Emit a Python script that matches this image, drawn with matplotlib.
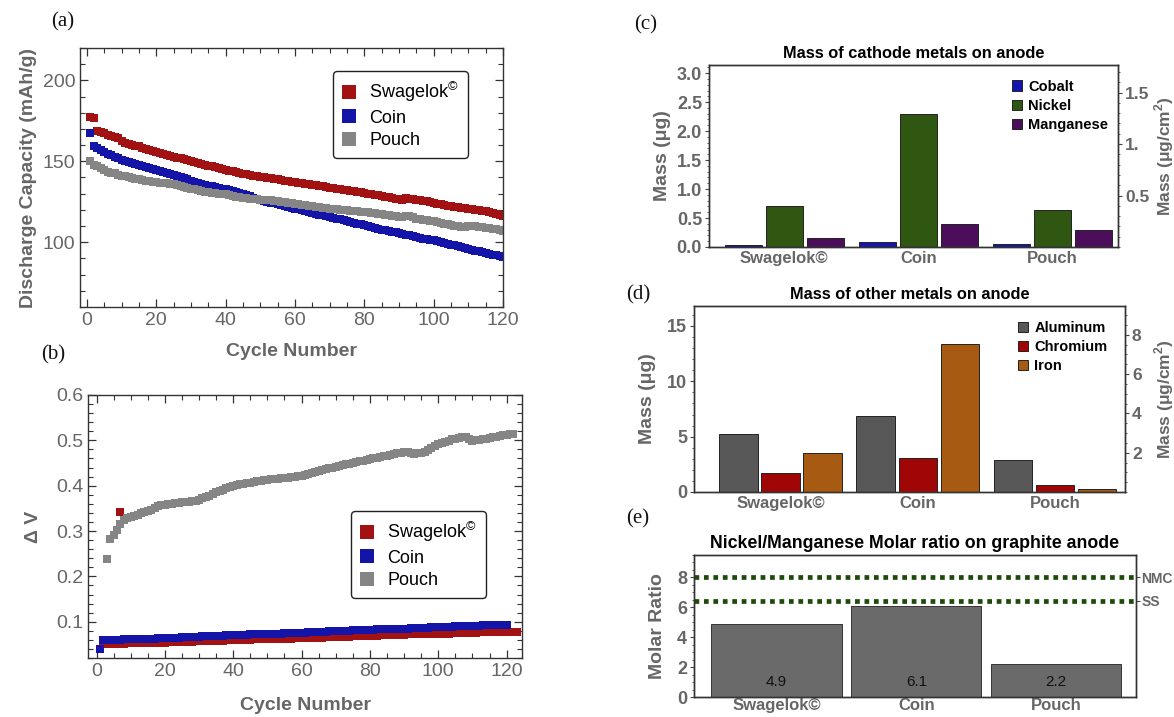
import matplotlib
matplotlib.use("Agg")
import matplotlib.pyplot as plt
from matplotlib.ticker import MultipleLocator, FixedLocator

plt.rcParams['font.family'] = ['Liberation Sans', 'DejaVu Sans']
plt.rcParams['mathtext.fontset'] = 'custom'
plt.rcParams['mathtext.rm'] = 'Liberation Sans'
plt.rcParams['mathtext.bf'] = 'Liberation Sans:bold'

# ---------------- data: panel (a) discharge capacity ----------------
cycles_a = list(range(1, 121))
cap_swagelok = [
    177.5, 176.5, 169.0, 168.3, 167.5, 166.5, 165.5, 165.0, 164.5, 162.5,
    161.5, 160.8, 160.2, 159.6, 159.4, 158.3, 157.6, 157.0, 156.4, 155.7,
    155.1, 154.5, 154.0, 153.4, 152.9, 152.3, 151.8, 151.2, 150.7, 150.1,
    149.6, 149.0, 148.5, 148.0, 147.4, 146.9, 146.4, 145.9, 145.3, 144.8,
    144.3, 143.9, 143.4, 142.9, 142.4, 142.0, 141.6, 141.2, 140.8, 140.4,
    140.1, 139.8, 139.4, 139.1, 138.8, 138.4, 138.1, 137.8, 137.4, 137.1,
    136.8, 136.4, 136.1, 135.8, 135.5, 135.1, 134.8, 134.5, 134.1, 133.8,
    133.5, 133.2, 132.8, 132.5, 132.2, 131.8, 131.5, 131.2, 130.8, 130.5,
    130.1, 129.7, 129.3, 128.9, 128.5, 128.1, 127.7, 127.3, 126.9, 126.5,
    126.3, 127.2, 127.0, 126.7, 126.4, 126.0, 125.6, 125.2, 124.7, 124.3,
    123.9, 123.5, 123.1, 122.7, 122.3, 122.0, 121.7, 121.4, 121.1, 120.8,
    120.5, 120.2, 119.8, 119.4, 119.0, 118.6, 118.0, 117.3, 116.9, 116.5]
cap_coin = [
    167.6, 159.4, 158.3, 156.9, 155.7, 154.6, 153.6, 152.8, 151.9, 151.1,
    150.4, 149.7, 149.0, 148.3, 147.6, 147.0, 146.4, 145.7, 145.1, 144.5,
    143.9, 143.2, 142.6, 142.0, 141.4, 140.7, 140.1, 139.4, 138.8, 138.1,
    137.5, 136.9, 136.2, 135.6, 135.0, 134.5, 134.0, 133.6, 133.1, 132.6,
    132.1, 131.5, 131.0, 130.4, 129.9, 129.1, 128.3, 127.5, 126.6, 125.8,
    125.3, 124.9, 124.4, 124.0, 123.5, 123.0, 122.4, 121.9, 121.3, 120.8,
    120.3, 119.7, 119.2, 118.6, 118.1, 117.6, 117.1, 116.7, 116.2, 115.7,
    115.2, 114.6, 114.1, 113.5, 113.0, 112.5, 112.0, 111.5, 111.0, 110.5,
    110.0, 109.4, 108.9, 108.3, 107.8, 107.4, 107.0, 106.6, 106.2, 105.8,
    105.3, 104.7, 104.2, 103.6, 103.1, 102.7, 102.3, 102.0, 101.6, 101.2,
    100.7, 100.1, 99.6, 99.0, 98.5, 98.0, 97.4, 96.9, 96.4, 95.9,
    95.4, 94.9, 94.4, 93.9, 93.4, 92.9, 92.4, 91.9, 91.4, 90.9]
cap_pouch = [
    150.5, 148.0, 147.0, 145.6, 144.5, 143.5, 143.0, 142.5, 141.8, 141.2,
    140.8, 140.4, 139.9, 139.3, 138.8, 138.5, 138.1, 137.8, 137.4, 137.1,
    136.8, 136.5, 136.3, 136.0, 135.7, 135.2, 134.6, 134.1, 133.5, 133.0,
    132.6, 132.2, 131.7, 131.3, 130.9, 130.6, 130.4, 130.1, 129.8, 129.5,
    129.1, 128.7, 128.2, 127.8, 127.4, 127.2, 127.0, 126.8, 126.6, 126.4,
    126.2, 126.0, 125.8, 125.6, 125.4, 125.1, 124.7, 124.4, 124.0, 123.7,
    123.4, 123.1, 122.9, 122.6, 122.3, 122.0, 121.7, 121.4, 121.1, 120.8,
    120.6, 120.4, 120.2, 120.0, 119.8, 119.6, 119.3, 119.1, 118.8, 118.6,
    118.4, 118.2, 117.9, 117.7, 117.5, 117.1, 116.8, 116.4, 116.1, 115.7,
    115.8, 116.0, 116.1, 115.3, 114.6, 114.3, 114.0, 113.6, 113.3, 113.0,
    112.5, 112.0, 111.5, 111.0, 110.5, 110.1, 109.8, 109.5, 109.7, 109.9,
    109.9, 109.8, 109.5, 109.2, 108.9, 108.6, 108.2, 107.9, 107.5, 107.2]

# ---------------- data: panel (b) delta V ----------------
cycles_b_swagelok = list(range(2, 124))
dv_swagelok = [
    0.050, 0.050, 0.050, 0.051, 0.051, 0.342, 0.051, 0.052, 0.052, 0.052,
    0.052, 0.053, 0.053, 0.053, 0.053, 0.054, 0.054, 0.054, 0.054, 0.055,
    0.055, 0.055, 0.055, 0.056, 0.056, 0.056, 0.056, 0.057, 0.057, 0.057,
    0.057, 0.058, 0.058, 0.058, 0.058, 0.058, 0.059, 0.059, 0.059, 0.059,
    0.060, 0.060, 0.060, 0.060, 0.061, 0.061, 0.061, 0.061, 0.062, 0.062,
    0.062, 0.062, 0.063, 0.063, 0.063, 0.063, 0.064, 0.064, 0.064, 0.064,
    0.065, 0.065, 0.065, 0.065, 0.065, 0.066, 0.066, 0.066, 0.066, 0.067,
    0.067, 0.067, 0.067, 0.068, 0.068, 0.068, 0.068, 0.069, 0.069, 0.069,
    0.069, 0.070, 0.070, 0.070, 0.070, 0.071, 0.071, 0.071, 0.071, 0.072,
    0.072, 0.072, 0.072, 0.072, 0.073, 0.073, 0.073, 0.073, 0.074, 0.074,
    0.074, 0.074, 0.075, 0.075, 0.075, 0.075, 0.076, 0.076, 0.076, 0.076,
    0.077, 0.077, 0.077, 0.077, 0.077, 0.077, 0.077, 0.077, 0.077, 0.077,
    0.077, 0.077]
cycles_b_coin = list(range(1, 121))
dv_coin = [
    0.039, 0.059, 0.059, 0.060, 0.060, 0.060, 0.060, 0.061, 0.061, 0.061,
    0.062, 0.062, 0.062, 0.062, 0.063, 0.063, 0.063, 0.064, 0.064, 0.064,
    0.065, 0.065, 0.065, 0.065, 0.066, 0.066, 0.066, 0.067, 0.067, 0.067,
    0.068, 0.068, 0.068, 0.068, 0.069, 0.069, 0.069, 0.070, 0.070, 0.070,
    0.071, 0.071, 0.071, 0.071, 0.072, 0.072, 0.072, 0.073, 0.073, 0.073,
    0.073, 0.074, 0.074, 0.074, 0.075, 0.075, 0.075, 0.076, 0.076, 0.076,
    0.076, 0.077, 0.077, 0.077, 0.078, 0.078, 0.078, 0.079, 0.079, 0.079,
    0.079, 0.080, 0.080, 0.080, 0.081, 0.081, 0.081, 0.082, 0.082, 0.082,
    0.082, 0.083, 0.083, 0.083, 0.084, 0.084, 0.084, 0.085, 0.085, 0.085,
    0.085, 0.086, 0.086, 0.086, 0.087, 0.087, 0.087, 0.088, 0.088, 0.088,
    0.088, 0.089, 0.089, 0.089, 0.090, 0.090, 0.090, 0.091, 0.091, 0.091,
    0.091, 0.091, 0.092, 0.092, 0.092, 0.092, 0.092, 0.092, 0.092, 0.092]
cycles_b_pouch = list(range(3, 123))
dv_pouch = [
    0.239, 0.283, 0.291, 0.302, 0.315, 0.325, 0.328, 0.330,
    0.333, 0.336, 0.339, 0.341, 0.344, 0.347, 0.351, 0.355, 0.357, 0.358,
    0.359, 0.360, 0.361, 0.362, 0.363, 0.364, 0.365, 0.366, 0.367, 0.369,
    0.372, 0.375, 0.378, 0.382, 0.385, 0.388, 0.391, 0.394, 0.397, 0.400,
    0.401, 0.403, 0.404, 0.406, 0.407, 0.408, 0.410, 0.411, 0.412, 0.413,
    0.414, 0.414, 0.415, 0.416, 0.417, 0.418, 0.419, 0.420, 0.421, 0.422,
    0.424, 0.426, 0.428, 0.431, 0.433, 0.435, 0.437, 0.439, 0.440, 0.442,
    0.444, 0.445, 0.447, 0.448, 0.450, 0.452, 0.454, 0.455, 0.457, 0.459,
    0.460, 0.462, 0.463, 0.465, 0.466, 0.468, 0.470, 0.471, 0.473, 0.475,
    0.474, 0.472, 0.470, 0.471, 0.472, 0.474, 0.478, 0.484, 0.488, 0.492,
    0.494, 0.497, 0.499, 0.502, 0.504, 0.506, 0.508, 0.507, 0.503, 0.499,
    0.500, 0.501, 0.503, 0.504, 0.506, 0.507, 0.508, 0.510, 0.511, 0.512,
    0.514, 0.515]

# ---------------- data: bar panels ----------------
cells = ["Swagelok©", "Coin", "Pouch"]
cathode_metals = ["Cobalt", "Nickel", "Manganese"]
mass_cobalt = [0.03, 0.08, 0.06]
mass_nickel = [0.70, 2.29, 0.63]
mass_manganese = [0.15, 0.39, 0.30]
other_metals = ["Aluminum", "Chromium", "Iron"]
mass_aluminum = [5.25, 6.9, 2.85]
mass_chromium = [1.71, 3.09, 0.60]
mass_iron = [3.54, 13.35, 0.24]
ni_mn_ratio = [4.9, 6.1, 2.2]
ratio_refs = ["NMC", "SS"]
ratio_ref_values = [8.0, 6.45]
anode_area_cm2 = 1.776

# ---------------- styling ----------------
C_RED = "#a31212"
C_BLUE = "#1414a8"
C_GRAY = "#858585"
TXT = "#666666"
SERIES_COLORS = [C_RED, C_BLUE, C_GRAY]
SERIES_NAMES = ["Swagelok$^{©}$", "Coin", "Pouch"]

W, H = 1174, 717
fig = plt.figure(figsize=(W / 100, H / 100), dpi=100)


def px_axes(x0, y0, x1, y1):
    return fig.add_axes([x0 / W, 1 - y1 / H, (x1 - x0) / W, (y1 - y0) / H])


def frame_style(ax):
    for s in ax.spines.values():
        s.set_color("#333333")
        s.set_linewidth(1.0)
    ax.tick_params(which="both", direction="in", top=True, right=True,
                   colors="#333333", labelcolor=TXT, labelsize=14)
    ax.tick_params(which="major", length=6, width=0.9)
    ax.tick_params(which="minor", length=3.5, width=0.8)


def line_legend(ax, anchor):
    lg = ax.legend(loc="upper left", bbox_to_anchor=anchor, borderaxespad=0, fontsize=13,
                   frameon=True, fancybox=True, edgecolor="#222222", framealpha=1,
                   handlelength=0.8, handletextpad=0.7, markerscale=1.9, borderpad=0.5,
                   labelspacing=0.3)
    lg.get_frame().set_linewidth(1.0)
    return lg


# ---- (a)
axa = px_axes(80, 48, 503, 307)
for ys, c, n in zip([cap_swagelok, cap_coin, cap_pouch], SERIES_COLORS, SERIES_NAMES):
    axa.plot(cycles_a, ys, ls="none", marker="s", ms=5.2, mew=0, color=c, label=n)
axa.set_xlim(-2, 120)
axa.set_ylim(60, 220)
axa.xaxis.set_major_locator(MultipleLocator(20))
axa.xaxis.set_minor_locator(MultipleLocator(5))
axa.yaxis.set_major_locator(FixedLocator([100, 150, 200]))
axa.yaxis.set_minor_locator(MultipleLocator(10))
frame_style(axa)
axa.set_xlabel("Cycle Number", fontsize=14, fontweight="bold", color=TXT, labelpad=10)
axa.set_ylabel("Discharge Capacity (mAh/g)", fontsize=14, fontweight="bold", color=TXT, labelpad=4)
line_legend(axa, (0.598, 0.911))

# ---- (b)
axb = px_axes(88, 395, 522, 658)
axb.plot(cycles_b_swagelok, dv_swagelok, ls="none", marker="s", ms=5.6, mew=0, color=C_RED, label=SERIES_NAMES[0])
axb.plot(cycles_b_coin, dv_coin, ls="none", marker="s", ms=5.6, mew=0, color=C_BLUE, label=SERIES_NAMES[1])
axb.plot(cycles_b_pouch, dv_pouch, ls="none", marker="s", ms=5.6, mew=0, color=C_GRAY, label=SERIES_NAMES[2])
axb.set_xlim(-2.5, 124.5)
axb.set_ylim(0.02, 0.6)
axb.xaxis.set_major_locator(MultipleLocator(20))
axb.xaxis.set_minor_locator(MultipleLocator(5))
axb.yaxis.set_major_locator(FixedLocator([0.1, 0.2, 0.3, 0.4, 0.5, 0.6]))
axb.yaxis.set_minor_locator(MultipleLocator(0.02))
frame_style(axb)
axb.set_xlabel("Cycle Number", fontsize=14, fontweight="bold", color=TXT, labelpad=12)
axb.set_ylabel("Δ V", fontsize=14, fontweight="bold", color=TXT, labelpad=10)
line_legend(axb, (0.606, 0.559))

# panel letters
for txt, x, y in [("(a)", 63, 22), ("(b)", 53, 355), ("(c)", 646, 25), ("(d)", 638, 295), ("(e)", 638, 519)]:
    fig.text(x / W, 1 - y / H, txt, family="Liberation Serif", fontsize=15,
             ha="center", va="center", color="#111111")


def bar_style(ax, ysize=13):
    for s in ax.spines.values():
        s.set_color("#333333")
        s.set_linewidth(1.0)
    ax.tick_params(which="both", direction="out", colors="#444444", labelcolor=TXT)
    ax.tick_params(axis="y", which="major", length=3, labelsize=ysize, pad=2)
    ax.tick_params(axis="y", which="minor", length=1.5)
    ax.tick_params(axis="x", length=0, labelsize=12, pad=3)
    for lab in ax.get_yticklabels() + ax.get_xticklabels():
        lab.set_fontweight("bold")


def bar_legend(ax, anchor):
    return ax.legend(loc="upper left", bbox_to_anchor=anchor, borderaxespad=0, borderpad=0,
                     frameon=False, prop={"weight": "bold", "size": 10.5},
                     handlelength=0.7, handleheight=0.7, handletextpad=0.4, labelspacing=0.36)


gx = [0, 1, 2]

# ---- (c)
axc = px_axes(709, 65, 1118, 247)
off_c, w_c = 0.306, 0.276
colors_c = ["#1414b0", "#2f5712", "#4c0d5a"]
for k, (vals, col, name) in enumerate(zip([mass_cobalt, mass_nickel, mass_manganese], colors_c, cathode_metals)):
    axc.bar([g + (k - 1) * off_c for g in gx], vals, width=w_c, color=col,
            edgecolor="#222222", linewidth=0.7, label=name)
axc.set_xlim(-0.56, 2.49)
axc.set_ylim(0, 3.14)
axc.set_xticks(gx)
axc.set_xticklabels(cells)
axc.yaxis.set_major_locator(FixedLocator([0, 0.5, 1.0, 1.5, 2.0, 2.5, 3.0]))
axc.yaxis.set_minor_locator(MultipleLocator(0.1))
axc.set_yticklabels(["0.0", "0.5", "1.0", "1.5", "2.0", "2.5", "3.0"])
bar_style(axc)
axc.set_ylabel("Mass (μg)", fontsize=14, fontweight="bold", color=TXT, labelpad=4)
axc.set_title("Mass of cathode metals on anode", fontsize=11.8, fontweight="bold", pad=5)
axc2 = axc.twinx()
axc2.set_ylim(0, 3.14 / anode_area_cm2)
axc2.set_yticks([0.5, 1.0, 1.5])
axc2.set_yticklabels(["0.5", "1.", "1.5"])
axc2.yaxis.set_minor_locator(MultipleLocator(0.1))
bar_style(axc2, ysize=12.5)
axc2.set_ylabel("Mass (μg/cm$^\\mathbf{2}$)", fontsize=12.5, fontweight="bold", color=TXT)
axc2.yaxis.set_label_coords((1152 - 709) / (1118 - 709), 0.5)
bar_legend(axc, (0.741, 0.92))

# ---- (d)
axd = px_axes(694, 306, 1125, 492)
off_d, w_d = 0.307, 0.28
colors_d = ["#585858", "#a00606", "#a65a12"]
for k, (vals, col, name) in enumerate(zip([mass_aluminum, mass_chromium, mass_iron], colors_d, other_metals)):
    axd.bar([g + (k - 1) * off_d for g in gx], vals, width=w_d, color=col,
            edgecolor="#222222", linewidth=0.7, label=name)
axd.set_xlim(-0.63, 2.51)
axd.set_ylim(0, 16.8)
axd.set_xticks(gx)
axd.set_xticklabels(cells)
axd.yaxis.set_major_locator(FixedLocator([0, 5, 10, 15]))
axd.yaxis.set_minor_locator(MultipleLocator(1))
bar_style(axd)
axd.set_ylabel("Mass (μg)", fontsize=14, fontweight="bold", color=TXT, labelpad=8)
axd.set_title("Mass of other metals on anode", fontsize=11.8, fontweight="bold", pad=5)
axd2 = axd.twinx()
axd2.set_ylim(0, 16.8 / anode_area_cm2)
axd2.set_yticks([2, 4, 6, 8])
axd2.yaxis.set_minor_locator(MultipleLocator(0.5))
bar_style(axd2, ysize=12.5)
axd2.set_ylabel("Mass (μg/cm$^\\mathbf{2}$)", fontsize=12.5, fontweight="bold", color=TXT)
axd2.yaxis.set_label_coords((1152 - 694) / (1125 - 694), 0.5)
bar_legend(axd, (0.752, 0.92))

# ---- (e)
axe = px_axes(694, 555, 1136, 697)
axe.bar(gx, ni_mn_ratio, width=0.93, color="#6a6a6a", edgecolor="#333333", linewidth=0.7)
for g, v in zip(gx, ni_mn_ratio):
    axe.text(g, 1.0, f"{v:.1f}", ha="center", va="center", fontsize=11, color="#111111")
for v in ratio_ref_values:
    axe.axhline(v, color="#1e4a0a", lw=3.4, ls=(0, (1.0, 1.0)), dash_capstyle="butt")
axe.set_xlim(-0.59, 2.57)
axe.set_ylim(0, 9.5)
axe.set_xticks(gx)
axe.set_xticklabels(cells)
axe.yaxis.set_major_locator(FixedLocator([0, 2, 4, 6, 8]))
axe.yaxis.set_minor_locator(MultipleLocator(0.5))
bar_style(axe)
axe.tick_params(axis="x", pad=1)
axe.set_ylabel("Molar Ratio", fontsize=14, fontweight="bold", color=TXT, labelpad=8)
axe.set_title("Nickel/Manganese Molar ratio on graphite anode", fontsize=12.8, fontweight="bold", pad=5)
axe2 = axe.twinx()
axe2.set_ylim(0, 9.5)
axe2.set_yticks(ratio_ref_values)
axe2.set_yticklabels(ratio_refs)
bar_style(axe2, ysize=10)
axe2.tick_params(axis="y", length=3, pad=1)

fig.savefig("out.png", dpi=100)
